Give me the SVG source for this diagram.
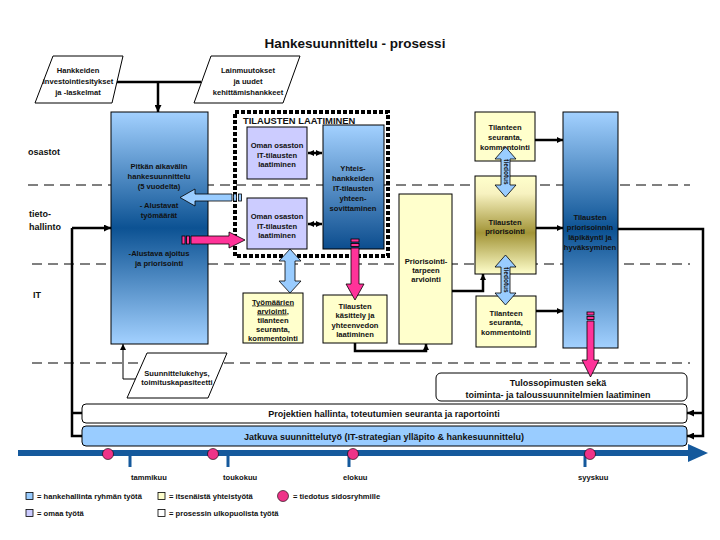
<svg xmlns="http://www.w3.org/2000/svg" width="720" height="540" viewBox="0 0 720 540">
<defs>
<style>
.t{font-family:"Liberation Sans",Arial,sans-serif;font-weight:bold;font-size:7.6px;text-anchor:middle;fill:#111}
.tl{font-family:"Liberation Sans",Arial,sans-serif;font-weight:bold;font-size:7.6px;fill:#111}
.lab{font-family:"Liberation Sans",Arial,sans-serif;font-weight:bold;font-size:9px;fill:#111}
.big{font-family:"Liberation Sans",Arial,sans-serif;font-weight:bold;font-size:9px;text-anchor:middle;fill:#111}
.box{stroke:#000;stroke-width:1}
.dash{fill:none;stroke:#000;stroke-width:1;stroke-dasharray:10 6}
.conn{fill:none;stroke:#000;stroke-width:2.5}
.thin{fill:none;stroke:#000;stroke-width:1}
.blue{fill:#99ccff;stroke:#000;stroke-width:0.8}
.pink{fill:#ff3399;stroke:#000;stroke-width:0.8}
.tl-blue{fill:#15599c}
</style>
<linearGradient id="gBlueMid" x1="0" y1="0" x2="0" y2="1">
<stop offset="0" stop-color="#a3d1ff"/>
<stop offset="0.5" stop-color="#0c5293"/>
<stop offset="1" stop-color="#a3d1ff"/>
</linearGradient>
<linearGradient id="gBlueDown" x1="0" y1="0" x2="0" y2="1">
<stop offset="0" stop-color="#a3d1ff"/>
<stop offset="1" stop-color="#0c4d8e"/>
</linearGradient>
<linearGradient id="gOlive" x1="0" y1="0" x2="0" y2="1">
<stop offset="0" stop-color="#ffffcc"/>
<stop offset="0.18" stop-color="#f7f2c0"/>
<stop offset="0.58" stop-color="#a29437"/>
<stop offset="1" stop-color="#ffffcc"/>
</linearGradient>
<marker id="ah" viewBox="0 0 10 10" refX="10" refY="5" markerWidth="7" markerHeight="7" markerUnits="userSpaceOnUse" orient="auto-start-reverse">
<path d="M0,0 L10,5 L0,10 z" fill="#000"/>
</marker>
<marker id="ahs" viewBox="0 0 10 10" refX="10" refY="5" markerWidth="6" markerHeight="6" markerUnits="userSpaceOnUse" orient="auto-start-reverse">
<path d="M0,0 L10,5 L0,10 z" fill="#000"/>
</marker>
</defs>
<rect width="720" height="540" fill="#fff"/>

<text x="355" y="48" class="big" style="font-size:13.5px">Hankesuunnittelu - prosessi</text>

<g id="lanes">
<path class="dash" d="M28,185 H690"/>
<path class="dash" d="M32,264 H690"/>
<path class="dash" d="M32,363 H690"/>
<text class="lab" x="28" y="155">osastot</text>
<text class="lab" x="29" y="217">tieto-</text>
<text class="lab" x="29" y="230">hallinto</text>
<text class="lab" x="33" y="298">IT</text>
</g>

<g id="connectors">
<path class="conn" d="M117,82 H201"/>
<path class="conn" d="M158,82 V112" marker-end="url(#ah)"/>
<path class="conn" d="M72,228 H111" marker-end="url(#ah)"/>
<path class="conn" d="M72,228 V436 H82"/>
<path class="conn" d="M72,413 H82"/>
<path class="thin" d="M140,379 H123 V344" marker-end="url(#ahs)"/>
<path class="conn" d="M308,153 H322" marker-start="url(#ahs)" marker-end="url(#ahs)"/>
<path class="conn" d="M308,224 H322" marker-start="url(#ahs)" marker-end="url(#ahs)"/>
<path class="conn" d="M355,343 V351 H426 V344" marker-end="url(#ahs)"/>
<path class="conn" d="M452,291 H483 V274" marker-end="url(#ahs)"/>
<path class="conn" d="M535,140 H563" marker-end="url(#ahs)"/>
<path class="conn" d="M536,228 H563" marker-end="url(#ahs)"/>
<path class="conn" d="M536,311 H563" marker-end="url(#ahs)"/>
<path class="conn" d="M618,229 H703 V436 H687" marker-end="url(#ah)"/>
<path class="conn" d="M703,413 H687" marker-end="url(#ah)"/>
</g>

<g id="para1">
<polygon class="box" fill="#fff" points="53,56 123,56 112,103 35,103"/>
<text class="t" x="78" y="73">Hankkeiden</text>
<text class="t" x="78" y="84">investointiesitykset</text>
<text class="t" x="78" y="95">ja -laskelmat</text>
</g>
<g id="para2">
<polygon class="box" fill="#fff" points="211,56 300,56 283,103 194,103"/>
<text class="t" x="248" y="73">Lainmuutokset</text>
<text class="t" x="248" y="84">ja uudet</text>
<text class="t" x="248" y="95">kehittämishankkeet</text>
</g>

<g id="pitkan">
<rect class="box" x="111" y="112" width="97" height="232" fill="url(#gBlueMid)"/>
<text class="t" x="159" y="169">Pitkän aikavälin</text>
<text class="t" x="159" y="179">hankesuunnittelu</text>
<text class="t" x="159" y="189">(5 vuodelta)</text>
<text class="t" x="159" y="208">- Alustavat</text>
<text class="t" x="159" y="218">työmäärät</text>
<text class="t" x="159" y="256">-Alustava ajoitus</text>
<text class="t" x="159" y="266">ja priorisointi</text>
</g>

<g id="tilausten-laatiminen">
<rect x="235" y="112" width="153" height="144" fill="none" stroke="#000" stroke-width="4" stroke-dasharray="4 2"/>
<text class="tl" x="243" y="124" style="font-size:9.4px">TILAUSTEN LAATIMINEN</text>
</g>

<g id="oman1">
<rect class="box" x="247" y="127" width="60" height="52" fill="#ccccff"/>
<text class="t" x="277" y="148">Oman osaston</text>
<text class="t" x="277" y="157.5">IT-tilausten</text>
<text class="t" x="277" y="167">laatiminen</text>
</g>
<g id="oman2">
<rect class="box" x="247" y="198" width="60" height="51" fill="#ccccff"/>
<text class="t" x="277" y="219">Oman osaston</text>
<text class="t" x="277" y="228.5">IT-tilausten</text>
<text class="t" x="277" y="238">laatiminen</text>
</g>
<g id="yhteis">
<rect class="box" x="323" y="125" width="61" height="124" fill="url(#gBlueDown)"/>
<text class="t" x="353" y="171">Yhteis-</text>
<text class="t" x="353" y="181">hankkeiden</text>
<text class="t" x="353" y="191">IT-tilausten</text>
<text class="t" x="353" y="201">yhteen-</text>
<text class="t" x="353" y="211">sovittaminen</text>
</g>

<g id="tyomaarien">
<rect class="box" x="243" y="293" width="60" height="50" fill="#ffffcc"/>
<text class="t" x="273" y="304.5" text-decoration="underline">Työmäärien</text>
<text class="t" x="273" y="313.5"><tspan text-decoration="underline">arviointi</tspan>,</text>
<text class="t" x="273" y="323">tilanteen</text>
<text class="t" x="273" y="332">seuranta,</text>
<text class="t" x="273" y="341">kommentointi</text>
</g>
<g id="kasittely">
<rect class="box" x="323" y="295" width="64" height="48" fill="#ffffcc"/>
<text class="t" x="355" y="308.5">Tilausten</text>
<text class="t" x="355" y="317.5">käsittely ja</text>
<text class="t" x="355" y="327.5">yhteenvedon</text>
<text class="t" x="355" y="336.5">laatiminen</text>
</g>
<g id="priorisointitarpeen">
<rect class="box" x="399" y="194" width="53" height="150" fill="#ffffcc"/>
<text class="t" x="426" y="263.5">Priorisointi-</text>
<text class="t" x="426" y="272.5">tarpeen</text>
<text class="t" x="426" y="281.5">arviointi</text>
</g>
<g id="tilanteen1">
<rect class="box" x="475" y="112" width="60" height="49" fill="#ffffcc"/>
<text class="t" x="505" y="129.5">Tilanteen</text>
<text class="t" x="505" y="139.5">seuranta,</text>
<text class="t" x="505" y="149.5">kommentointi</text>
</g>
<g id="tilausten-priorisointi">
<rect class="box" x="475" y="176" width="61" height="98" fill="url(#gOlive)"/>
<text class="t" x="505" y="224.5">Tilausten</text>
<text class="t" x="505" y="233.5">priorisointi</text>
</g>
<g id="tilanteen2">
<rect class="box" x="476" y="296" width="60" height="51" fill="#ffffcc"/>
<text class="t" x="506" y="315.5">Tilanteen</text>
<text class="t" x="506" y="324.5">seuranta,</text>
<text class="t" x="506" y="334.5">kommentointi</text>
</g>
<g id="hyvaksyminen">
<rect class="box" x="563" y="112" width="55" height="236" fill="url(#gBlueMid)"/>
<text class="t" x="590" y="219.5">Tilausten</text>
<text class="t" x="590" y="229.5">priorisoinnin</text>
<text class="t" x="590" y="239.5">läpikäynti ja</text>
<text class="t" x="590" y="249.5">hyväksyminen</text>
</g>

<g id="suunnittelukehys">
<polygon class="box" fill="#fff" points="147,353 227,353 208,398 127,398"/>
<text class="t" x="177" y="375.5">Suunnittelukehys,</text>
<text class="t" x="177" y="384.5">toimituskapasiteetti</text>
</g>

<g id="tulossopimusten">
<rect class="box" x="436" y="373" width="251" height="28" rx="5" fill="#fff"/>
<text class="big" x="558" y="385.5">Tulossopimusten sekä</text>
<text class="big" x="558" y="397.5">toiminta- ja taloussuunnitelmien laatiminen</text>
</g>
<g id="projektien">
<rect class="box" x="82" y="404" width="605" height="19" rx="4" fill="#fff"/>
<text class="big" x="384" y="417">Projektien hallinta, toteutumien seuranta ja raportointi</text>
</g>
<g id="jatkuva">
<rect class="box" x="82" y="426" width="605" height="20" rx="4" fill="#99ccff"/>
<text class="big" x="384" y="439.5">Jatkuva suunnittelutyö (IT-strategian ylläpito &amp; hankesuunnittelu)</text>
</g>

<g id="block-arrows">
<polygon class="blue" points="180,197.5 195,189 195,194 232,194 232,201 195,201 195,206"/>
<rect class="blue" x="233.5" y="194" width="3" height="7"/>
<rect class="blue" x="238.5" y="194" width="3" height="7"/>
<rect class="pink" x="182" y="236" width="3" height="8"/>
<rect class="pink" x="186.5" y="236" width="3" height="8"/>
<polygon class="pink" points="191,236 229,236 229,232 245,240 229,248 229,244 191,244"/>
<polygon class="blue" points="290,249 301,261 295,261 295,281 301,281 290,293 279,281 285,281 285,261 279,261"/>
<rect class="pink" x="351" y="239" width="8" height="3"/>
<rect class="pink" x="351" y="243.5" width="8" height="3"/>
<polygon class="pink" points="351,248 359,248 359,284 364,284 355,300 346,284 351,284"/>
<polygon class="blue" points="505.5,147 516,159 510,159 510,185 516,185 505.5,197 495,185 501,185 501,159 495,159"/>
<text class="t" transform="translate(503.5,172) rotate(90)" style="font-size:6.5px">tiedotus</text>
<polygon class="blue" points="505.5,255 516,267 510,267 510,293 516,293 505.5,305 495,293 501,293 501,267 495,267"/>
<text class="t" transform="translate(503.5,280) rotate(90)" style="font-size:6.5px">tiedotus</text>
<rect class="pink" x="587" y="312" width="7" height="3"/>
<rect class="pink" x="587" y="316.5" width="7" height="3"/>
<polygon class="pink" points="587,321 594,321 594,360 599,360 590.5,377 582,360 587,360"/>
</g>

<g id="timeline">
<rect class="tl-blue" x="18" y="450" width="672" height="6"/>
<polygon class="tl-blue" points="688,444 708,453 688,462"/>
<rect class="tl-blue" x="128.5" y="455" width="3" height="12"/>
<rect class="tl-blue" x="226.5" y="455" width="3" height="12"/>
<rect class="tl-blue" x="347.5" y="455" width="3" height="12"/>
<rect class="tl-blue" x="583.5" y="455" width="3" height="12"/>
<circle cx="108" cy="454" r="5.5" fill="#ee3388" stroke="#000" stroke-width="0.6"/>
<circle cx="213" cy="454" r="5.5" fill="#ee3388" stroke="#000" stroke-width="0.6"/>
<circle cx="353" cy="454" r="5.5" fill="#ee3388" stroke="#000" stroke-width="0.6"/>
<circle cx="590" cy="454" r="5.5" fill="#ee3388" stroke="#000" stroke-width="0.6"/>
<text class="tl" x="131" y="480">tammikuu</text>
<text class="tl" x="223" y="480">toukokuu</text>
<text class="tl" x="343" y="480">elokuu</text>
<text class="tl" x="578" y="480">syyskuu</text>
</g>

<g id="legend">
<rect x="26" y="492.5" width="7" height="7" fill="#99ccff" stroke="#000" stroke-width="0.8"/>
<text class="tl" x="37" y="499">= hankehallinta ryhmän työtä</text>
<rect x="26" y="509.5" width="7" height="7" fill="#ccccff" stroke="#000" stroke-width="0.8"/>
<text class="tl" x="37" y="516">= omaa työtä</text>
<rect x="158" y="492.5" width="7" height="7" fill="#ffffcc" stroke="#000" stroke-width="0.8"/>
<text class="tl" x="169" y="499">= itsenäistä yhteistyötä</text>
<rect x="158" y="509.5" width="7" height="7" fill="#fff" stroke="#000" stroke-width="0.8"/>
<text class="tl" x="169" y="516">= prosessin ulkopuolista työtä</text>
<circle cx="283" cy="496" r="5.5" fill="#ee3388" stroke="#000" stroke-width="0.6"/>
<text class="tl" x="293" y="499">= tiedotus sidosryhmille</text>
</g>
</svg>
